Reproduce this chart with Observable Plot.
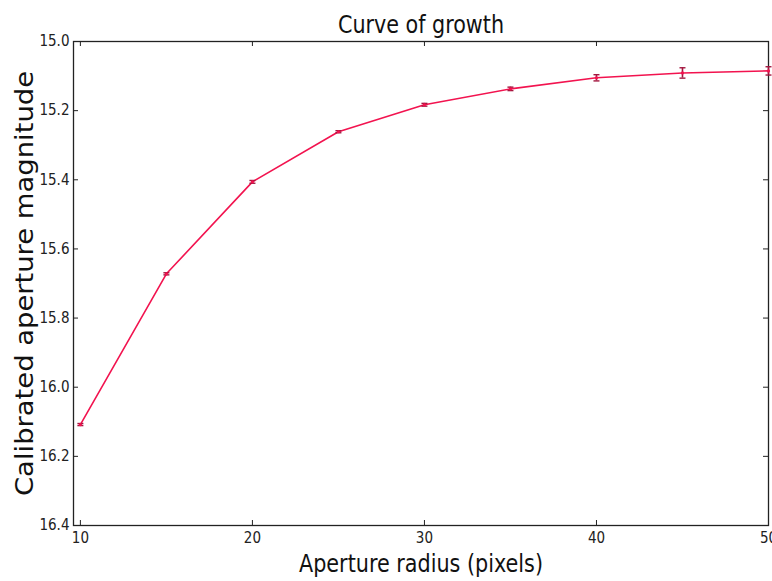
<!DOCTYPE html>
<html>
<head>
<meta charset="utf-8">
<script src="https://cdn.jsdelivr.net/npm/d3@7"></script>
<script src="https://cdn.jsdelivr.net/npm/@observablehq/plot@0.6"></script>
<style>
  html, body { margin: 0; padding: 0; background: #fff; }
  #chart svg { display: block; }
</style>
</head>
<body>
<div id="chart"></div>
<script>
const radius = [10, 15, 20, 25, 30, 35, 40, 45, 50];
const magnitude = [16.108, 15.672, 15.406, 15.261, 15.183, 15.137, 15.105, 15.091, 15.085];
const magError = [0.003, 0.003, 0.004, 0.003, 0.004, 0.005, 0.009, 0.015, 0.012];
const xTicks = [10, 20, 30, 40, 50];
const yTicks = [15.0, 15.2, 15.4, 15.6, 15.8, 16.0, 16.2, 16.4];
const titleText = "Curve of growth";
const xLabel = "Aperture radius (pixels)";
const yLabel = "Calibrated aperture magnitude";

const data = radius.map((r, i) => ({r, m: magnitude[i], e: magError[i]}));

const W = 772, H = 581;
const mL = 73, mR = 4, mT = 41, mB = 56;
const plotH = H - mT - mB, plotW = W - mL - mR;
const tickLen = 5;
const font = "'DejaVu Sans Condensed', 'DejaVu Sans', sans-serif";

const cap = {
  draw(ctx, size) {
    const r = Math.sqrt(size / Math.PI);
    ctx.moveTo(-r, 0); ctx.lineTo(r, 0);
  }
};

const lineColor = "#f2134f";
const errColor = "#a3163f";

const chart = Plot.plot({
  width: W, height: H,
  marginLeft: mL, marginRight: mR, marginTop: mT, marginBottom: mB,
  style: {fontFamily: font, background: "#fff", overflow: "visible"},
  x: {domain: [9.6, 50], ticks: xTicks, tickFormat: d => String(d)},
  y: {domain: [15.0, 16.4], reverse: true, ticks: yTicks, tickFormat: d => d.toFixed(1)},
  marks: [
    Plot.frame({stroke: "#222", strokeWidth: 1.3}),
    // inward ticks on all four sides
    Plot.ruleX(xTicks, {x: d => d, insetTop: plotH - tickLen, stroke: "#222"}),
    Plot.ruleX(xTicks, {x: d => d, insetBottom: plotH - tickLen, stroke: "#222"}),
    Plot.ruleY(yTicks, {y: d => d, insetRight: plotW - tickLen, stroke: "#222"}),
    Plot.ruleY(yTicks, {y: d => d, insetLeft: plotW - tickLen, stroke: "#222"}),
    Plot.axisX(xTicks, {anchor: "bottom", tickSize: 0, tickPadding: 7, fontSize: 15, fill: "#222", label: null, tickFormat: d => String(d)}),
    Plot.axisY(yTicks, {anchor: "left", tickSize: 0, tickPadding: 4, fontSize: 15, fill: "#222", label: null, tickFormat: d => d.toFixed(1)}),
    Plot.line(data, {x: "r", y: "m", stroke: lineColor, strokeWidth: 1.6}),
    Plot.ruleX(data, {x: "r", y1: d => d.m - d.e, y2: d => d.m + d.e, stroke: errColor, strokeWidth: 1.6}),
    Plot.dot(data, {x: "r", y: d => d.m - d.e, symbol: cap, r: 3, stroke: errColor, strokeWidth: 1.4}),
    Plot.dot(data, {x: "r", y: d => d.m + d.e, symbol: cap, r: 3, stroke: errColor, strokeWidth: 1.4}),
    Plot.dot(data, {x: "r", y: "m", r: 1.6, fill: lineColor, stroke: null}),
    Plot.text([titleText], {frameAnchor: "top", textAnchor: "middle", lineAnchor: "middle", dy: -17, fontSize: 25, fill: "#111", fontFamily: font}),
    Plot.text([xLabel], {frameAnchor: "bottom", textAnchor: "middle", lineAnchor: "middle", dy: 38, fontSize: 25, fill: "#111", fontFamily: font}),
    Plot.text([yLabel], {frameAnchor: "left", textAnchor: "middle", lineAnchor: "middle", dx: -49, rotate: -90, fontSize: 25, fill: "#111", fontFamily: "'DejaVu Sans', sans-serif"})
  ]
});

document.getElementById("chart").appendChild(chart);

// fit label lengths to the reference
const fits = {[titleText]: 166, [xLabel]: 244, [yLabel]: 425};
d3.select(chart).selectAll("text").each(function() {
  const t = this.textContent;
  if (fits[t]) {
    this.setAttribute("textLength", fits[t]);
    this.setAttribute("lengthAdjust", "spacingAndGlyphs");
  }
});
</script>
</body>
</html>
